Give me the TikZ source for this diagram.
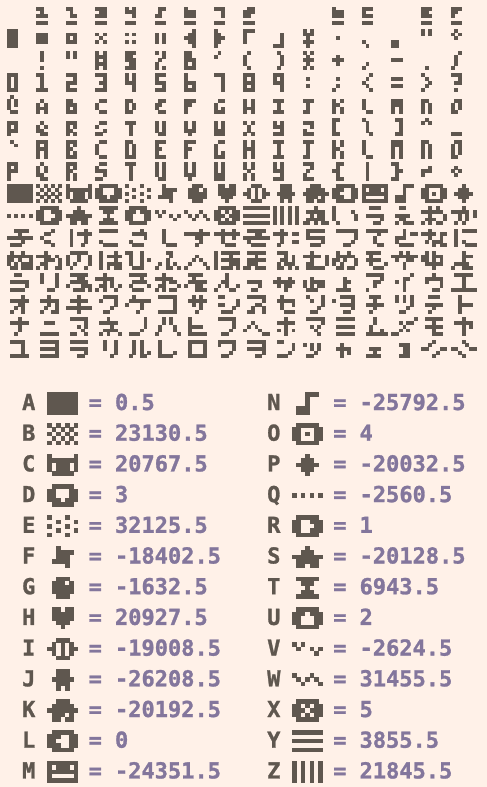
\documentclass[tikz,border=0pt]{standalone}
\usepackage{fontspec}
\newfontfamily\monofam{DejaVu Sans Mono}[BoldFeatures={FakeBold=1.2}]
\definecolor{paper}{HTML}{FFF1E8}
\definecolor{ink}{HTML}{5F574F}
\definecolor{lav}{HTML}{83769C}
\newdimen\gox \newdimen\goy \newdimen\gux
\newcount\gpc \newcount\gpr
\def\pxparse#1{\ifx#1\relax\let\pxnext\relax\else
  \ifx#1x\fill[ink] (\the\dimexpr\gox+\gux*\gpc\relax,\the\dimexpr-\goy-\gux*\gpr\relax)
    rectangle (\the\dimexpr\gox+\gux*\gpc+\gux+0.2pt\relax,\the\dimexpr-\goy-\gux*\gpr-\gux-0.2pt\relax);\fi
  \advance\gpc by 1 \let\pxnext\pxparse\fi\pxnext}
\def\pxrow#1{\gpc=0 \pxparse#1\relax\advance\gpr by 1 }
\def\drawrows#1#2#3#4#5{\gpr=0 \pxrow{#1}\pxrow{#2}\pxrow{#3}\pxrow{#4}\pxrow{#5}}
\def\setmain#1#2{\gox=\dimexpr6.6pt+29.6pt*#1\relax\goy=\dimexpr6.6pt+22.2pt*#2\relax\gux=3.7pt }
\def\mg#1#2{\setmain{#1}{#2}\drawrows}
\def\ms#1#2#3{\setmain{#1}{#2}\expandafter\expandafter\expandafter\drawrows\csname sym#3\endcsname}
\def\ls#1#2#3{\gox=#1pt \goy=#2pt \gux=4.4pt \expandafter\expandafter\expandafter\drawrows\csname sym#3\endcsname}
\def\symA{{xxxxxxx}{xxxxxxx}{xxxxxxx}{xxxxxxx}{xxxxxxx}}
\def\symB{{x.x.x.x}{.x.x.x.}{x.x.x.x}{.x.x.x.}{x.x.x.x}}
\def\symC{{x.....x}{xxxxxxx}{x.xxx.x}{x.xxx.x}{.xxxxx.}}
\def\symD{{.xxxxx.}{xx...xx}{xx...xx}{xxx.xxx}{.xxxxx.}}
\def\symE{{x...x..}{..x...x}{x...x..}{..x...x}{x...x..}}
\def\symF{{..x....}{..xxxx.}{..xxx..}{.xxxx..}{....x..}}
\def\symG{{..xxx..}{.xxx.x.}{.xxxxx.}{.xxxxx.}{..xxx..}}
\def\symH{{.xx.xx.}{.xxxxx.}{.xxxxx.}{..xxx..}{...x...}}
\def\symI{{..xxx..}{.x.x.x.}{xx.x.xx}{.x.x.x.}{..xxx..}}
\def\symJ{{..xxx..}{..xxx..}{.xxxxx.}{..xxx..}{..x.x..}}
\def\symK{{..xxx..}{.xxxxx.}{xxxxxxx}{.xxx.x.}{.xx.xx.}}
\def\symL{{.xxxxx.}{xxx..xx}{xx...xx}{xxx..xx}{.xxxxx.}}
\def\symM{{xxxxxxx}{x.xxx.x}{xxxxxxx}{x.....x}{xxxxxxx}}
\def\symN{{...xxx.}{...x...}{...x...}{.xxx...}{.xxx...}}
\def\symO{{.xxxxx.}{xx...xx}{xx.x.xx}{xx...xx}{.xxxxx.}}
\def\symP{{...x...}{..xxx..}{.xxxxx.}{..xxx..}{...x...}}
\def\symQ{{.......}{.......}{x.x.x.x}{.......}{.......}}
\def\symR{{.xxxxx.}{xx..xxx}{xx...xx}{xx..xxx}{.xxxxx.}}
\def\symS{{...x...}{..xxx..}{xxxxxxx}{.xxxxx.}{.xx.xx.}}
\def\symT{{.xxxxx.}{..xxx..}{...x...}{..xxx..}{.xxxxx.}}
\def\symU{{.xxxxx.}{xxx.xxx}{xx...xx}{xx...xx}{.xxxxx.}}
\def\symV{{.......}{x.x....}{.x..x.x}{.....x.}{.......}}
\def\symW{{.......}{x...x..}{.x.x.x.}{..x...x}{.......}}
\def\symX{{.xxxxx.}{xx.x.xx}{xxx.xxx}{xx.x.xx}{.xxxxx.}}
\def\symY{{xxxxxxx}{.......}{xxxxxxx}{.......}{xxxxxxx}}
\def\symZ{{x.x.x.x}{x.x.x.x}{x.x.x.x}{x.x.x.x}{x.x.x.x}}
\tikzset{
  lett/.style={anchor=base west,inner sep=0pt,text=ink,font=\monofam\bfseries\fontsize{22}{22}\selectfont},
  numb/.style={anchor=base west,inner sep=0pt,text=lav,font=\monofam\bfseries\fontsize{22}{22}\selectfont}
}
\begin{document}
\begin{tikzpicture}[x=1pt,y=1pt]
\useasboundingbox (0,0) rectangle (487,-787);
\fill[paper] (0,0) rectangle (487,-787);
% row 0
\mg{1}{0}{xx.}{.x.}{xxx}{...}{xxx}
\mg{2}{0}{xx.}{.x.}{.xx}{...}{xxx}
\mg{3}{0}{xxx}{.xx}{xxx}{...}{xxx}
\mg{4}{0}{x.x}{xxx}{..x}{...}{xxx}
\mg{5}{0}{.xx}{.x.}{xx.}{...}{xxx}
\mg{6}{0}{x..}{xxx}{xxx}{...}{xxx}
\mg{7}{0}{xxx}{..x}{..x}{...}{xxx}
\mg{8}{0}{.xx}{xxx}{xx.}{...}{xxx}
\mg{11}{0}{x..}{xxx}{xxx}{...}{xxx}
\mg{12}{0}{xxx}{x..}{xxx}{...}{xxx}
\mg{14}{0}{xxx}{xx.}{xxx}{...}{xxx}
\mg{15}{0}{xxx}{xx.}{x..}{...}{xxx}
% row 1
\mg{0}{1}{xxx}{xxx}{xxx}{xxx}{xxx}
\mg{1}{1}{...}{xxx}{xxx}{xxx}{...}
\mg{2}{1}{...}{xxx}{x.x}{xxx}{...}
\mg{3}{1}{...}{x.x}{.x.}{x.x}{...}
\mg{4}{1}{...}{x.x}{...}{x.x}{...}
\mg{5}{1}{...}{x.x}{x.x}{x.x}{...}
\mg{6}{1}{..x}{.xx}{xxx}{.xx}{..x}
\mg{7}{1}{x..}{xx.}{xxx}{xx.}{x..}
\mg{8}{1}{xxx}{x..}{x..}{x..}{...}
\mg{9}{1}{...}{..x}{..x}{..x}{xxx}
\mg{10}{1}{x.x}{xxx}{.x.}{xxx}{.x.}
\mg{11}{1}{...}{...}{.x.}{...}{...}
\mg{12}{1}{...}{...}{...}{x..}{.x.}
\mg{13}{1}{...}{...}{...}{xx.}{xx.}
\mg{14}{1}{x.x}{x.x}{...}{...}{...}
\mg{15}{1}{.x.}{x.x}{.x.}{...}{...}
% row 2
\mg{1}{2}{.x.}{.x.}{.x.}{...}{.x.}
\mg{2}{2}{x.x}{x.x}{...}{...}{...}
\mg{3}{2}{x.x}{xxx}{x.x}{xxx}{x.x}
\mg{4}{2}{xxx}{xx.}{xxx}{.xx}{xxx}
\mg{5}{2}{x.x}{..x}{.x.}{x..}{x.x}
\mg{6}{2}{xx.}{xx.}{xxx}{x.x}{xxx}
\mg{7}{2}{.x.}{x..}{...}{...}{...}
\mg{8}{2}{.x.}{x..}{x..}{x..}{.x.}
\mg{9}{2}{.x.}{..x}{..x}{..x}{.x.}
\mg{10}{2}{x.x}{.x.}{xxx}{.x.}{x.x}
\mg{11}{2}{...}{.x.}{xxx}{.x.}{...}
\mg{12}{2}{...}{...}{...}{.x.}{x..}
\mg{13}{2}{...}{...}{xxx}{...}{...}
\mg{14}{2}{...}{...}{...}{...}{.x.}
\mg{15}{2}{..x}{.x.}{.x.}{.x.}{x..}
% row 3
\mg{0}{3}{xxx}{x.x}{x.x}{x.x}{xxx}
\mg{1}{3}{xx.}{.x.}{.x.}{.x.}{xxx}
\mg{2}{3}{xxx}{..x}{xxx}{x..}{xxx}
\mg{3}{3}{xxx}{..x}{.xx}{..x}{xxx}
\mg{4}{3}{x.x}{x.x}{xxx}{..x}{..x}
\mg{5}{3}{xxx}{x..}{xxx}{..x}{xxx}
\mg{6}{3}{x..}{x..}{xxx}{x.x}{xxx}
\mg{7}{3}{xxx}{..x}{..x}{..x}{..x}
\mg{8}{3}{xxx}{x.x}{xxx}{x.x}{xxx}
\mg{9}{3}{xxx}{x.x}{xxx}{..x}{..x}
\mg{10}{3}{...}{.x.}{...}{.x.}{...}
\mg{11}{3}{...}{.x.}{...}{.x.}{x..}
\mg{12}{3}{..x}{.x.}{x..}{.x.}{..x}
\mg{13}{3}{...}{xxx}{...}{xxx}{...}
\mg{14}{3}{x..}{.x.}{..x}{.x.}{x..}
\mg{15}{3}{xxx}{..x}{.xx}{...}{.x.}
% row 4
\mg{0}{4}{.x.}{x.x}{x.x}{x..}{.xx}
\mg{1}{4}{...}{.x.}{x.x}{xxx}{x.x}
\mg{2}{4}{...}{xx.}{xxx}{x.x}{xxx}
\mg{3}{4}{...}{.xx}{x..}{x..}{.xx}
\mg{4}{4}{...}{xx.}{x.x}{x.x}{xx.}
\mg{5}{4}{...}{.xx}{xx.}{x..}{.xx}
\mg{6}{4}{...}{xxx}{xx.}{x..}{x..}
\mg{7}{4}{...}{.xx}{x..}{x.x}{xxx}
\mg{8}{4}{...}{x.x}{x.x}{xxx}{x.x}
\mg{9}{4}{...}{xxx}{.x.}{.x.}{xxx}
\mg{10}{4}{...}{xxx}{.x.}{.x.}{xx.}
\mg{11}{4}{...}{x.x}{xx.}{x.x}{x.x}
\mg{12}{4}{...}{x..}{x..}{x..}{.xx}
\mg{13}{4}{...}{xxx}{xxx}{x.x}{x.x}
\mg{14}{4}{...}{xx.}{x.x}{x.x}{x.x}
\mg{15}{4}{...}{.xx}{x.x}{x.x}{xx.}
% row 5
\mg{0}{5}{...}{xxx}{x.x}{xxx}{x..}
\mg{1}{5}{...}{.x.}{x.x}{xx.}{.xx}
\mg{2}{5}{...}{xxx}{x.x}{xx.}{x.x}
\mg{3}{5}{...}{.xx}{x..}{..x}{xx.}
\mg{4}{5}{...}{xxx}{.x.}{.x.}{.x.}
\mg{5}{5}{...}{x.x}{x.x}{x.x}{.xx}
\mg{6}{5}{...}{x.x}{x.x}{xxx}{.x.}
\mg{7}{5}{...}{x.x}{x.x}{xxx}{xxx}
\mg{8}{5}{...}{x.x}{.x.}{.x.}{x.x}
\mg{9}{5}{...}{x.x}{xxx}{..x}{xxx}
\mg{10}{5}{...}{xxx}{..x}{x..}{xxx}
\mg{11}{5}{xx.}{x..}{x..}{x..}{xx.}
\mg{12}{5}{x..}{.x.}{.x.}{.x.}{..x}
\mg{13}{5}{.xx}{..x}{..x}{..x}{.xx}
\mg{14}{5}{.x.}{x.x}{...}{...}{...}
\mg{15}{5}{...}{...}{...}{...}{xxx}
% row 6
\mg{0}{6}{.x.}{..x}{...}{...}{...}
\mg{1}{6}{xxx}{x.x}{xxx}{x.x}{x.x}
\mg{2}{6}{xxx}{x.x}{xx.}{x.x}{xxx}
\mg{3}{6}{.xx}{x..}{x..}{x..}{.xx}
\mg{4}{6}{xx.}{x.x}{x.x}{x.x}{xxx}
\mg{5}{6}{xxx}{x..}{xx.}{x..}{xxx}
\mg{6}{6}{xxx}{x..}{xx.}{x..}{x..}
\mg{7}{6}{.xx}{x..}{x..}{x.x}{xxx}
\mg{8}{6}{x.x}{x.x}{xxx}{x.x}{x.x}
\mg{9}{6}{xxx}{.x.}{.x.}{.x.}{xxx}
\mg{10}{6}{xxx}{.x.}{.x.}{.x.}{xx.}
\mg{11}{6}{x.x}{x.x}{xx.}{x.x}{x.x}
\mg{12}{6}{x..}{x..}{x..}{x..}{.xx}
\mg{13}{6}{xxx}{xxx}{x.x}{x.x}{x.x}
\mg{14}{6}{xx.}{x.x}{x.x}{x.x}{x.x}
\mg{15}{6}{.xx}{x.x}{x.x}{x.x}{xx.}
% row 7
\mg{0}{7}{xxx}{x.x}{xxx}{x..}{x..}
\mg{1}{7}{.x.}{x.x}{x.x}{xx.}{.xx}
\mg{2}{7}{xxx}{x.x}{xx.}{x.x}{x.x}
\mg{3}{7}{.xx}{x..}{xxx}{..x}{xx.}
\mg{4}{7}{xxx}{.x.}{.x.}{.x.}{.x.}
\mg{5}{7}{x.x}{x.x}{x.x}{x.x}{.xx}
\mg{6}{7}{x.x}{x.x}{x.x}{xxx}{.x.}
\mg{7}{7}{x.x}{x.x}{x.x}{xxx}{xxx}
\mg{8}{7}{x.x}{x.x}{.x.}{x.x}{x.x}
\mg{9}{7}{x.x}{x.x}{xxx}{..x}{xxx}
\mg{10}{7}{xxx}{..x}{.x.}{x..}{xxx}
\mg{11}{7}{.xx}{.x.}{xx.}{.x.}{.xx}
\mg{12}{7}{.x.}{.x.}{.x.}{.x.}{.x.}
\mg{13}{7}{xx.}{.x.}{.xx}{.x.}{xx.}
\mg{14}{7}{...}{..x}{xxx}{x..}{...}
\mg{15}{7}{...}{.x.}{x.x}{.x.}{...}
% row 8
\ms{0}{8}{A}\ms{1}{8}{B}\ms{2}{8}{C}\ms{3}{8}{D}\ms{4}{8}{E}\ms{5}{8}{F}\ms{6}{8}{G}\ms{7}{8}{H}
\ms{8}{8}{I}\ms{9}{8}{J}\ms{10}{8}{K}\ms{11}{8}{L}\ms{12}{8}{M}\ms{13}{8}{N}\ms{14}{8}{O}\ms{15}{8}{P}
% row 9
\ms{0}{9}{Q}\ms{1}{9}{R}\ms{2}{9}{S}\ms{3}{9}{T}\ms{4}{9}{U}\ms{5}{9}{V}\ms{6}{9}{W}\ms{7}{9}{X}
\ms{8}{9}{Y}\ms{9}{9}{Z}
\mg{10}{9}{...x...}{.xxxxx.}{..x.xx.}{.xxxxx.}{xx.x.xx}
\mg{11}{9}{x......}{x....x.}{x.....x}{x.....x}{.x.....}
\mg{12}{9}{..xxx..}{.......}{.xxxxx.}{.....x.}{...xx..}
\mg{13}{9}{..xx...}{.......}{.xxxx..}{..xx...}{.x.xxx.}
\mg{14}{9}{..x.x..}{xxxxxx.}{..x...x}{.xxx..x}{x.x.xx.}
\mg{15}{9}{...x...}{xxxxx.x}{..x.x.x}{..x.x..}{.x.x...}
% row 10
\mg{0}{10}{..xxxx.}{...x...}{xxxxxxx}{....x..}{.xxx...}
\mg{1}{10}{....x..}{..xx...}{.x.....}{..xx...}{....x..}
\mg{2}{10}{.x...x.}{.x.xxxx}{.x...x.}{.x...x.}{.x..x..}
\mg{3}{10}{.xxxxx.}{.......}{.......}{.x.....}{..xxxx.}
\mg{4}{10}{....x..}{..xxxx.}{.....x.}{.x.....}{..xxx..}
\mg{5}{10}{..x....}{..x....}{..x....}{..x....}{...xxx.}
\mg{6}{10}{....x..}{xxxxxxx}{...xx..}{....x..}{...x...}
\mg{7}{10}{..x..x.}{xxxxxxx}{..x..x.}{..x....}{...xxx.}
\mg{8}{10}{.xxxxx.}{...xx..}{xxxxxxx}{.x.....}{..xxxx.}
\mg{9}{10}{..x....}{xxxx.xx}{..x....}{..x..xx}{.x.....}
\mg{10}{10}{.xxxxx.}{.x.....}{.xxxxx.}{.....x.}{..xxx..}
\mg{11}{10}{.xxxxxx}{......x}{......x}{.....x.}{...xx..}
\mg{12}{10}{.xxxxxx}{....x..}{...x...}{...x...}{....xx.}
\mg{13}{10}{...x...}{...x.xx}{.xxx...}{.x.....}{..xxxx.}
\mg{14}{10}{..x....}{xxxx.xx}{..x..x.}{.x.xxx.}{...x.xx}
\mg{15}{10}{.x.xxxx}{.x.....}{.x.....}{.x.x...}{.x..xxx}
% row 11
\mg{0}{11}{.x..x..}{xxxxxxx}{xx.x..x}{x.x.xxx}{.xx.xxx}
\mg{1}{11}{..x....}{xxxx.x.}{..xxx.x}{.xx...x}{x.x..xx}
\mg{2}{11}{.xxxxx.}{x..x..x}{x..x..x}{x.x...x}{.x...x.}
\mg{3}{11}{.x...x.}{.x.xxxx}{.x...x.}{.x.xxxx}{.x.x.xx}
\mg{4}{11}{xx..x..}{.x..x..}{.x..x.x}{.x..x..}{..xxx..}
\mg{5}{11}{...xx..}{....x..}{...x...}{.x.x.x.}{x..xx.x}
\mg{6}{11}{.......}{...x...}{..x.x..}{.x...x.}{x.....x}
\mg{7}{11}{x.xxxxx}{x...x..}{x.xxxxx}{x...xxx}{x.xxx.x}
\mg{8}{11}{.xxxxx.}{...x...}{.xxxxx.}{.xxx...}{xx.xxx.}
\mg{9}{11}{.xxx...}{...x.x.}{..xx.x.}{.x.xxx.}{.xx.x.x}
\mg{10}{11}{..x....}{xxxxx.x}{..x...x}{.xx...x}{.xxxxx.}
\mg{11}{11}{.x..x..}{.xxxxx.}{xx.x..x}{x.x...x}{.xx.xx.}
\mg{12}{11}{.xxxx..}{..x....}{.xxxx..}{..x...x}{...xxx.}
\mg{13}{11}{..x.x..}{xxxxxxx}{.x..xx.}{...x...}{...x...}
\mg{14}{11}{.x.x...}{xx.xxx.}{xx.x.x.}{.xxxxx.}{...x...}
\mg{15}{11}{...x...}{...xxx.}{...x...}{.xxxx..}{x..xxx.}
% row 12
\mg{0}{12}{..xx...}{.......}{.xxxxx.}{.....x.}{.xxxx..}
\mg{1}{12}{.x...x.}{.x...x.}{.x...x.}{.....x.}{...xx..}
\mg{2}{12}{.xxxxx.}{...xx..}{.xxxxx.}{x...xxx}{..xxx.x}
\mg{3}{12}{..x....}{xxxxx..}{..x.x..}{.xx.x.x}{x.x..x.}
\mg{4}{12}{.xxxxx.}{....x..}{..xxxx.}{.x....x}{..xxx..}
\mg{5}{12}{..x....}{xxxxx..}{..x.xx.}{.xx...x}{x.x.xx.}
\mg{6}{12}{.xxxx..}{..x....}{.xxxxx.}{x..xx..}{...xxx.}
\mg{7}{12}{...x...}{...x...}{..xx...}{.x.x..x}{x...xx.}
\mg{8}{12}{.......}{.......}{.xxxx..}{....x..}{..xx...}
\mg{9}{12}{.......}{.x..x..}{xxxxxx.}{.x.xx..}{...x...}
\mg{10}{12}{.......}{..x....}{x.xxxx.}{x.x.xx.}{.xxx...}
\mg{11}{12}{.......}{...x...}{...xx..}{...x...}{.xxxx..}
\mg{12}{12}{.xxxxx.}{.....x.}{...xx..}{...x...}{.x.....}
\mg{13}{12}{.....x.}{...xx..}{.x.x...}{...x...}{...x...}
\mg{14}{12}{...x...}{.xxxxx.}{.x...x.}{.....x.}{...xx..}
\mg{15}{12}{.xxxxx.}{...x...}{...x...}{...x...}{xxxxxxx}
% row 13
\mg{0}{13}{....x..}{.xxxxx.}{...xx..}{..x.x..}{.x..x..}
\mg{1}{13}{...x...}{.xxxxx.}{...x.x.}{..x..x.}{.x..xx.}
\mg{2}{13}{...x...}{.xxxxx.}{...x...}{xxxxxxx}{...x...}
\mg{3}{13}{..xxxx.}{.x...x.}{.....x.}{....x..}{..xx...}
\mg{4}{13}{..x....}{.xxxxxx}{x...x..}{....x..}{...x...}
\mg{5}{13}{.xxxxx.}{.....x.}{.....x.}{.....x.}{.xxxxx.}
\mg{6}{13}{..x.x..}{.xxxxx.}{..x.x..}{....x..}{...x...}
\mg{7}{13}{.xx....}{......x}{.xx...x}{.....x.}{..xxx..}
\mg{8}{13}{.xxxxx.}{.....x.}{...xx..}{..x..x.}{.xx..x.}
\mg{9}{13}{..x....}{.xxxxx.}{..x..x.}{..x....}{...xxx.}
\mg{10}{13}{.x...x.}{..x..x.}{.....x.}{....x..}{..xx...}
\mg{11}{13}{..xxxx.}{x....x.}{..xxxx.}{.....x.}{...xx..}
\mg{12}{13}{..xxx..}{...x...}{.xxxxx.}{...x...}{..x....}
\mg{13}{13}{.x.x.x.}{.x.x.x.}{.....x.}{....x..}{..xx...}
\mg{14}{13}{..xxx..}{.......}{.xxxxx.}{...x...}{..x....}
\mg{15}{13}{..x....}{..x....}{..xxxx.}{..x....}{..x....}
% row 14
\mg{0}{14}{...x...}{.xxxxx.}{...x...}{...x...}{..x....}
\mg{1}{14}{.......}{..xxx..}{.......}{.......}{.xxxxx.}
\mg{2}{14}{.xxxxx.}{.....x.}{...x.x.}{....x..}{.xx..x.}
\mg{3}{14}{...x...}{.xxxxx.}{....x..}{..xxxx.}{.x.x..x}
\mg{4}{14}{.....x.}{.....x.}{.....x.}{....x..}{.xxx...}
\mg{5}{14}{..x.x..}{..x.x..}{.x...x.}{.x...x.}{x.....x}
\mg{6}{14}{.x.....}{.x.....}{.xxxx..}{.x.....}{.xxxxx.}
\mg{7}{14}{.xxxxx.}{.....x.}{.....x.}{....x..}{..xx...}
\mg{8}{14}{.......}{..x....}{.x.x...}{x...x..}{.....xx}
\mg{9}{14}{...x...}{.xxxxx.}{...x...}{.x.x.x.}{...x...}
\mg{10}{14}{.xxxxx.}{.....x.}{..x.x..}{...x...}{....x..}
\mg{11}{14}{.xxxxx.}{.......}{.xxxxx.}{.......}{.xxxxx.}
\mg{12}{14}{...x...}{...x...}{..x....}{..x..x.}{.xxxxxx}
\mg{13}{14}{......x}{..x.xx.}{...x...}{..x.x..}{xx.....}
\mg{14}{14}{.xxxxx.}{...x...}{.xxxxx.}{...x...}{...xxx.}
\mg{15}{14}{...x...}{.xxxxx.}{...x.x.}{...x...}{...x...}
% row 15
\mg{0}{15}{.xxxx..}{....x..}{....x..}{....x..}{.xxxxx.}
\mg{1}{15}{.xxxxx.}{.....x.}{.xxxxx.}{.....x.}{.xxxxx.}
\mg{2}{15}{.xxxxx.}{.......}{.xxxxx.}{.....x.}{...xx..}
\mg{3}{15}{..x..x.}{..x..x.}{..x..x.}{.....x.}{....x..}
\mg{4}{15}{..x.x..}{..x.x..}{..x.x..}{..x.x.x}{.x..xx.}
\mg{5}{15}{.x.....}{.x.....}{.x.....}{.x...x.}{.xxxx..}
\mg{6}{15}{.xxxxx.}{.x...x.}{.x...x.}{.x...x.}{.xxxxx.}
\mg{7}{15}{.xxxxx.}{.x...x.}{.....x.}{....x..}{..xx...}
\mg{8}{15}{.xxxxx.}{.....x.}{.xxxxx.}{.....x.}{...xx..}
\mg{9}{15}{.xx....}{.....x.}{.....x.}{....x..}{.xxx...}
\mg{10}{15}{.......}{x.x.x..}{..x.x..}{...x...}{.xx....}
\mg{11}{15}{.......}{..x....}{.xxxx..}{..x.x..}{..x....}
\mg{12}{15}{.......}{.......}{..xxx..}{...x...}{.xxxx..}
\mg{13}{15}{.......}{..xxx..}{...xx..}{...xx..}{..xxx..}
\mg{14}{15}{...x...}{..x....}{xx...xx}{....x..}{...x...}
\mg{15}{15}{...x...}{....x..}{xx...xx}{..x....}{...x...}
% legend, left column
\foreach \Lt/\Vl [count=\rw from 0] in {A/0.5,B/23130.5,C/20767.5,D/3,E/32125.5,F/-18402.5,G/-1632.5,H/20927.5,I/-19008.5,J/-26208.5,K/-20192.5,L/0,M/-24351.5}{
  \pgfmathsetmacro{\rowy}{392.3+30.7*\rw}
  \pgfmathsetmacro{\basey}{-410-30.7*\rw}
  \node[lett] (let\Lt) at (21.9,\basey) {\Lt};
  \ls{47.3}{\rowy}{\Lt}
  \node[numb] (eq\Lt) at (88.4,\basey) {=};
  \node[numb] (val\Lt) at (114.8,\basey) {\Vl};
}
% legend, right column
\foreach \Lt/\Vl [count=\rw from 0] in {N/-25792.5,O/4,P/-20032.5,Q/-2560.5,R/1,S/-20128.5,T/6943.5,U/2,V/-2624.5,W/31455.5,X/5,Y/3855.5,Z/21845.5}{
  \pgfmathsetmacro{\rowy}{392.3+30.7*\rw}
  \pgfmathsetmacro{\basey}{-410-30.7*\rw}
  \node[lett] (let\Lt) at (267,\basey) {\Lt};
  \ls{292}{\rowy}{\Lt}
  \node[numb] (eq\Lt) at (333,\basey) {=};
  \node[numb] (val\Lt) at (359.4,\basey) {\Vl};
}
\end{tikzpicture}
\end{document}
